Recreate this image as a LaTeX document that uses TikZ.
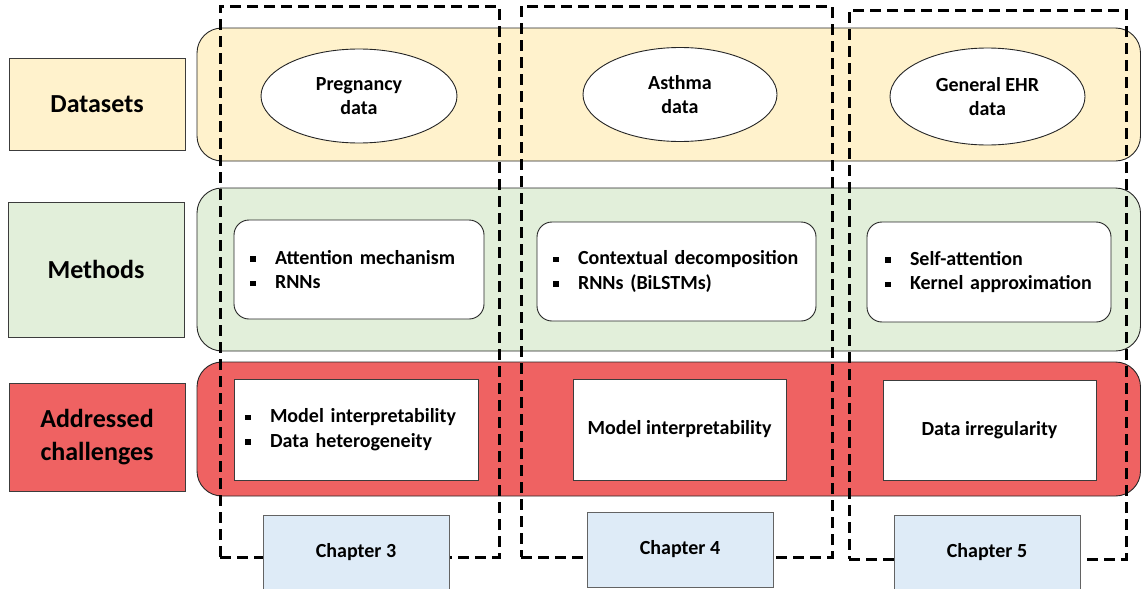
\documentclass[tikz,border=0pt]{standalone}
\usepackage{fontspec}
\setmainfont{Carlito}
\usetikzlibrary{shapes.geometric}
\definecolor{dsy}{RGB}{255,242,204}
\definecolor{mtg}{RGB}{226,239,218}
\definecolor{chr}{RGB}{239,98,98}
\definecolor{cpb}{RGB}{222,235,247}
\definecolor{edge}{RGB}{60,60,60}
\newcommand{\sqb}{\rule[0.12em]{5.5pt}{5.5pt}\hspace{19.5pt}}
\tikzset{
  lbl/.style={draw=edge, line width=0.9pt, inner sep=0pt, align=center, font=\bfseries\fontsize{26}{33}\selectfont},
  band/.style={draw=black!85, line width=0.9pt, rounded corners=25pt, inner sep=0pt},
  ell/.style={ellipse, draw=black!85, line width=0.9pt, fill=white, inner sep=0pt, align=center},
  mbox/.style={draw=black!85, line width=0.9pt, fill=white, rounded corners=15pt, inner ysep=0pt, align=left},
  cbox/.style={draw=edge, line width=0.9pt, fill=white, inner ysep=0pt},
  chap/.style={draw=edge!80, line width=0.9pt, fill=cpb, inner sep=0pt},
  chframe/.style={draw=black, line width=3pt, dash pattern=on 11pt off 6pt, inner sep=0pt}
}
\begin{document}
\begin{tikzpicture}[x=1pt, y=-1pt, font=\bfseries\fontsize{20}{24.5}\selectfont]
\useasboundingbox (0,0) rectangle (1141,589);
% left labels
\node[lbl, fill=dsy, minimum width=176pt, minimum height=92pt] (ld) at (97,104) {Datasets};
\node[lbl, fill=mtg, minimum width=176pt, minimum height=135pt] (lm) at (96,269.5) {Methods};
\node[lbl, fill=chr, minimum width=176pt, minimum height=108pt] (lc) at (97,437.5) {Addressed\\challenges};
% bands
\node[band, fill=dsy, minimum width=943.5pt, minimum height=133pt] (bd) at (668.75,94.5) {};
\node[band, fill=mtg, minimum width=943.5pt, minimum height=163pt] (bm) at (668.75,269.5) {};
\node[band, fill=chr, minimum width=943.5pt, minimum height=134pt] (bc) at (668.75,429) {};
% datasets
\node[ell, minimum width=196pt, minimum height=94pt] (e1) at (359,96) {Pregnancy\\data};
\node[ell, minimum width=194pt, minimum height=94pt] (e2) at (680,94.5) {Asthma\\data};
\node[ell, minimum width=195pt, minimum height=97pt] (e3) at (987.5,96.5) {General EHR\\data};
% methods
\node[mbox, minimum height=99pt, text width=218pt, inner xsep=16pt] (m1) at (359,269.5) {\sqb Attention mechanism\\\sqb RNNs};
\node[mbox, minimum height=99pt, text width=247pt, inner xsep=16pt] (m2) at (676.5,271.5) {\sqb Contextual decomposition\\\sqb RNNs (BiLSTMs)};
\node[mbox, minimum height=100pt, text width=208pt, inner xsep=18pt] (m3) at (989,272) {\sqb Self-attention\\\sqb Kernel approximation};
% challenges
\node[cbox, minimum width=244pt, minimum height=101pt, text width=222pt, inner xsep=11pt, align=left] (c1) at (356,429.5) {\sqb Model interpretability\\\sqb Data heterogeneity};
\node[cbox, minimum width=213pt, minimum height=101pt] (c2) at (679.5,429.5) {Model interpretability};
\node[cbox, minimum width=213pt, minimum height=100pt] (c3) at (989.5,430) {Data irregularity};
% dashed chapter frames
\node[chframe, minimum width=279pt, minimum height=551pt] (f3) at (359.5,281.5) {};
\node[chframe, minimum width=311pt, minimum height=551pt] (f4) at (676.5,281.5) {};
\node[chframe, minimum width=277pt, minimum height=549pt] (f5) at (987.5,284.5) {};
% chapter boxes
\node[chap, minimum width=186pt, minimum height=74pt] (ch3) at (356,552) {Chapter 3};
\node[chap, minimum width=186pt, minimum height=75pt] (ch4) at (680,549.5) {Chapter 4};
\node[chap, minimum width=186pt, minimum height=74pt] (ch5) at (987,552) {Chapter 5};
\end{tikzpicture}
\end{document}
